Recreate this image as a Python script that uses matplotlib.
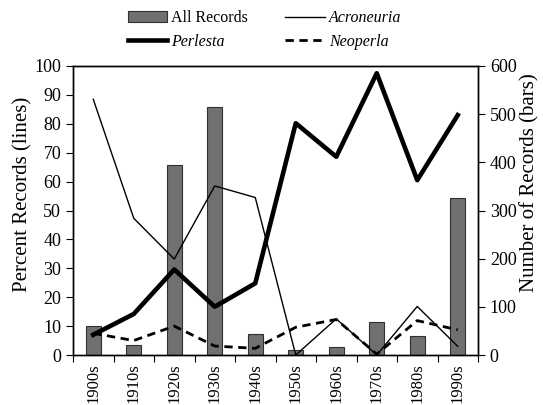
import matplotlib
matplotlib.use("Agg")
import matplotlib.pyplot as plt
import numpy as np

decades = ["1900s", "1910s", "1920s", "1930s", "1940s", "1950s", "1960s", "1970s", "1980s", "1990s"]
all_records = [60, 21, 395, 514, 44, 10, 16, 69, 40, 326]
perlesta = [7, 14.2, 29.6, 16.7, 24.8, 80.2, 68.6, 97.5, 60.5, 83]
acroneuria = [88.5, 47.3, 33.2, 58.5, 54.5, 0, 12.5, 0, 16.8, 3]
neoperla = [7.5, 5, 10, 3.1, 2.3, 9.6, 12.3, 0.3, 11.9, 8.7]

plt.rcParams['font.family'] = ['Liberation Serif', 'DejaVu Serif']

fig = plt.figure(figsize=(5.43, 4.05), dpi=100)
ax = fig.add_axes([73/543, 1-355/405, 405/543, 289/405])
ax2 = ax.twinx()

x = np.arange(len(decades))
bars = ax2.bar(x, all_records, width=0.37, color="#707070", edgecolor="#303030", linewidth=0.8, label="All Records")
ax2.set_ylim(0, 600)
ax2.set_yticks(range(0, 601, 100))

l_acro, = ax.plot(x, acroneuria, color="black", lw=1.0, label="Acroneuria")
l_perl, = ax.plot(x, perlesta, color="black", lw=3.3, label="Perlesta")
l_neo, = ax.plot(x, neoperla, color="black", lw=2.0, ls=(0, (3, 2)), label="Neoperla")
ax.set_zorder(ax2.get_zorder() + 1)
ax.patch.set_visible(False)

ax.set_ylim(0, 100)
ax.set_yticks(range(0, 101, 10))
ax.set_xlim(-0.5, len(decades) - 0.5)
ax.set_xticks(np.arange(-0.5, len(decades), 1))
ax.set_xticklabels([])
ax.set_xticks(x, minor=True)
ax.set_xticklabels(decades, minor=True, rotation=90, fontsize=12)
ax.tick_params(axis='x', which='minor', length=0, pad=6)
ax.tick_params(axis='x', which='major', length=5, direction='out')
ax.tick_params(axis='y', labelsize=13, length=5, direction='out')
ax2.tick_params(axis='y', labelsize=13, length=5, direction='out')

ax.set_ylabel("Percent Records (lines)", fontsize=15)
ax.yaxis.set_label_coords(-0.101, 0.557)
ax2.set_ylabel("Number of Records (bars)", fontsize=15)
ax2.yaxis.set_label_coords(1.104, 0.595)

for a in (ax, ax2):
    for s in a.spines.values():
        s.set_linewidth(1.0)

leg = fig.legend(handles=[bars, l_perl, l_acro, l_neo],
                 labels=["All Records", "Perlesta", "Acroneuria", "Neoperla"],
                 ncol=2, loc="upper center", bbox_to_anchor=(0.487, 1.01),
                 frameon=False, fontsize=11.5, handlelength=2.5, columnspacing=2.3,
                 handletextpad=0.25, labelspacing=0.45)
for t in leg.get_texts()[1:]:
    t.set_fontstyle("italic")

fig.savefig("out.png", dpi=100)
